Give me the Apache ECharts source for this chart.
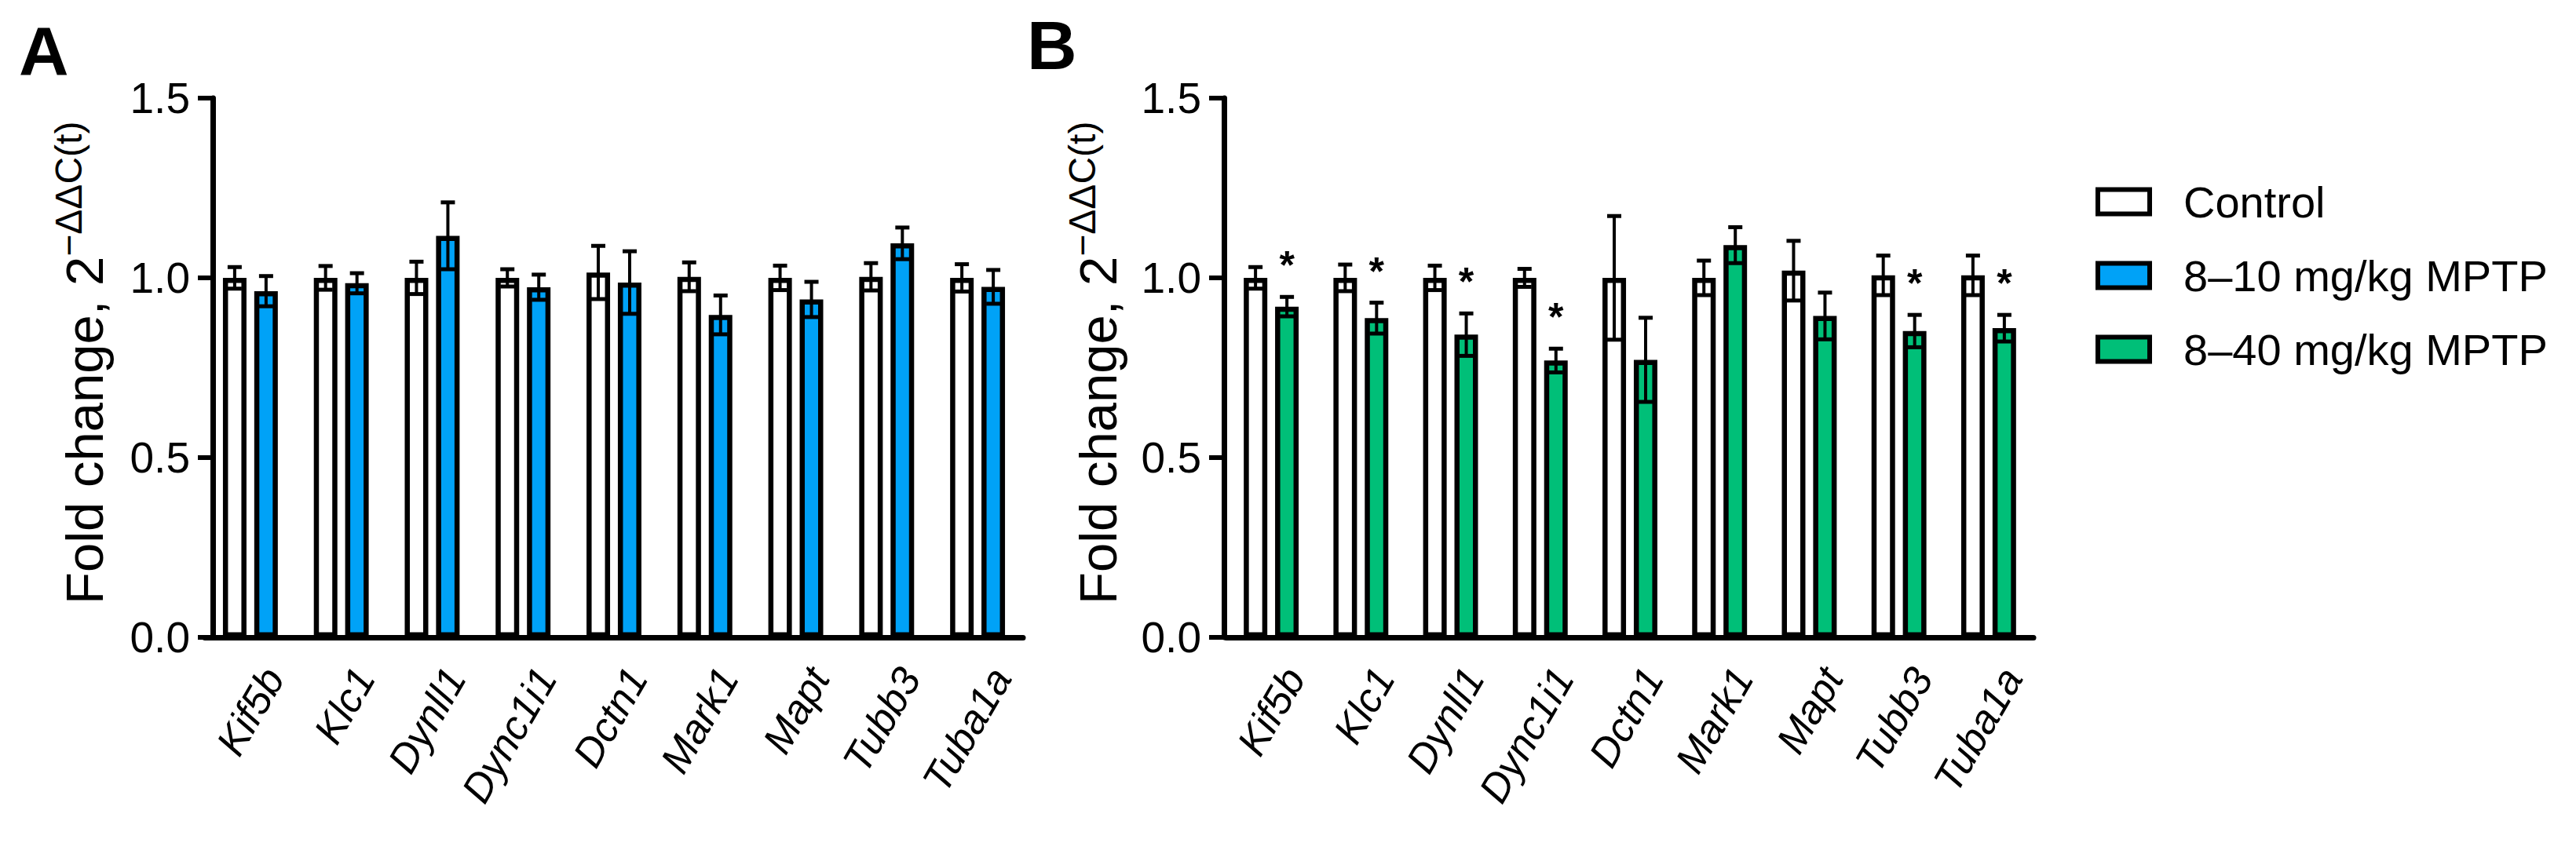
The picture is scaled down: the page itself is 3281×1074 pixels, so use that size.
<!DOCTYPE html>
<html>
<head>
<meta charset="utf-8">
<script src="https://cdn.jsdelivr.net/npm/echarts@6/dist/echarts.min.js"></script>
<style>
  html, body { margin: 0; padding: 0; background: #fff; }
  #chart { width: 3281px; height: 1074px; }
</style>
</head>
<body>
<div id="chart"></div>
<script>
// genes on the x axis (same for both panels)
const genes = ['Kif5b', 'Klc1', 'Dynll1', 'Dync1i1', 'Dctn1', 'Mark1', 'Mapt', 'Tubb3', 'Tuba1a'];

// panel A: control vs 8–10 mg/kg
const ctrlA = [1.00, 1.00, 1.00, 1.00, 1.015, 1.003, 1.00, 1.003, 1.00];
const ctrlAErr = [0.030, 0.033, 0.045, 0.024, 0.074, 0.040, 0.034, 0.038, 0.038];
const lowA = [0.963, 0.985, 1.117, 0.974, 0.987, 0.897, 0.940, 1.096, 0.975];
const lowAErr = [0.042, 0.028, 0.093, 0.035, 0.087, 0.054, 0.049, 0.044, 0.047];

// panel B: control vs 8–40 mg/kg
const ctrlB = [1.00, 1.00, 1.00, 1.00, 1.00, 1.00, 1.02, 1.007, 1.007];
const ctrlBErr = [0.030, 0.037, 0.034, 0.025, 0.172, 0.048, 0.083, 0.055, 0.055];
const highB = [0.920, 0.888, 0.842, 0.770, 0.772, 1.091, 0.894, 0.852, 0.860];
const highBErr = [0.027, 0.043, 0.059, 0.033, 0.117, 0.050, 0.065, 0.045, 0.037];
const sigB = [1, 1, 1, 1, 0, 0, 0, 1, 1];   // * p<0.05

const yTicks = [0, 0.5, 1.0, 1.5];

const FONT = "'Liberation Sans', Arial, Helvetica, sans-serif";
const BLUE = '#00a2f7';
const GREEN = '#00bf78';
const BAR_W = 30, BORDER = 6.5, OFF = 20;

// text width helper for placing the superscript after the title
const mctx = document.createElement('canvas').getContext('2d');
function textW(str, font) {
  mctx.font = font;
  return mctx.measureText(str).width;
}

function errRender(offset) {
  return function (params, api) {
    const i = api.value(0), m = api.value(1), e = api.value(2), s = api.value(3);
    const top = api.coord([i, m + e]);
    const bot = api.coord([i, m - e]);
    const x = top[0] + offset;
    const kids = [
      {type: 'line', shape: {x1: x, y1: top[1], x2: x, y2: bot[1]}, style: {stroke: '#000', lineWidth: 4}},
      {type: 'line', shape: {x1: x - 9, y1: top[1], x2: x + 9, y2: top[1]}, style: {stroke: '#000', lineWidth: 5}},
      {type: 'line', shape: {x1: x - 9, y1: bot[1], x2: x + 9, y2: bot[1]}, style: {stroke: '#000', lineWidth: 5}}
    ];
    if (s) {
      kids.push({type: 'text', x: x, y: top[1] - 40, style: {
        text: '*', fill: '#000', font: 'bold 50px ' + FONT, textAlign: 'center', textVerticalAlign: 'middle'
      }});
    }
    return {type: 'group', children: kids};
  };
}

function errData(mean, err, sig) {
  return mean.map((m, i) => [i, m, err[i], sig ? sig[i] : 0]);
}

function xAxisCfg(gridIndex) {
  return {
    type: 'category', gridIndex: gridIndex, data: genes,
    axisLine: {lineStyle: {color: '#000', width: 7}},
    axisTick: {alignWithLabel: true, length: 19, lineStyle: {color: '#000', width: 6}},
    axisLabel: {rotate: 60, fontSize: 52, fontStyle: 'italic', fontFamily: FONT, color: '#000',
      margin: 26, interval: 0, verticalAlign: 'top', padding: [8, 0, 0, 0]}
  };
}

function yAxisCfg(gridIndex, offset) {
  return {
    type: 'value', gridIndex: gridIndex, min: 0, max: 1.5, interval: 0.5, offset: offset,
    axisLine: {show: true, lineStyle: {color: '#000', width: 7}},
    axisTick: {show: true, length: 19, lineStyle: {color: '#000', width: 6}},
    splitLine: {show: false},
    axisLabel: {fontSize: 55, fontFamily: FONT, color: '#000', margin: 29,
      formatter: v => yTicks.indexOf(v) >= 0 ? v.toFixed(1) : ''}
  };
}

function barSeries(name, data, color, idx) {
  return {
    name: name, type: 'bar', xAxisIndex: idx, yAxisIndex: idx, data: data,
    barWidth: BAR_W, barGap: '33%',
    itemStyle: {color: color, borderColor: '#000', borderWidth: BORDER}
  };
}

function errSeries(mean, err, sig, offset, idx) {
  return {
    type: 'custom', xAxisIndex: idx, yAxisIndex: idx, z: 5,
    renderItem: errRender(offset), data: errData(mean, err, sig)
  };
}

// rotated y title: "Fold change, 2" with superscript "−ΔΔC(t)"
const MAIN_FONT = '67px ' + FONT, SUP_FONT = '48px ' + FONT;
const MAIN_TXT = 'Fold change, 2', SUP_TXT = '\u2212\u0394\u0394C(t)';
function yTitle(baseX, bottomY) {
  const w = textW(MAIN_TXT, MAIN_FONT);
  return [
    {type: 'text', x: baseX - 23, y: bottomY, rotation: Math.PI / 2, style: {
      text: MAIN_TXT, font: MAIN_FONT, fill: '#000', textAlign: 'left', textVerticalAlign: 'middle'}},
    {type: 'text', x: baseX - 26 - 17, y: bottomY - w, rotation: Math.PI / 2, style: {
      text: SUP_TXT, font: SUP_FONT, fill: '#000', textAlign: 'left', textVerticalAlign: 'middle'}}
  ];
}

const chart = echarts.init(document.getElementById('chart'), null, {renderer: 'svg'});

const option = {
  animation: false,
  backgroundColor: '#fff',
  grid: [
    {left: 261, width: 1042, top: 125, bottom: 262},
    {left: 1562, width: 1028, top: 125, bottom: 262}
  ],
  xAxis: [xAxisCfg(0), xAxisCfg(1)],
  yAxis: [yAxisCfg(0, -10), yAxisCfg(1, 3)],
  legend: {
    orient: 'vertical', left: 2669, top: 229, padding: 0,
    itemWidth: 66, itemHeight: 31, itemGap: 38,
    textStyle: {fontSize: 56, fontFamily: FONT, color: '#000', padding: [0, 0, 0, 38]},
    data: [
      {name: 'Control', icon: 'rect', itemStyle: {color: '#fff', borderColor: '#000', borderWidth: 6}},
      {name: '8–10 mg/kg MPTP', icon: 'rect', itemStyle: {color: BLUE, borderColor: '#000', borderWidth: 6}},
      {name: '8–40 mg/kg MPTP', icon: 'rect', itemStyle: {color: GREEN, borderColor: '#000', borderWidth: 6}}
    ]
  },
  graphic: [
    {type: 'text', left: 24, top: 20, style: {text: 'A', font: 'bold 88px ' + FONT, fill: '#000'}},
    {type: 'text', left: 1308, top: 13, style: {text: 'B', font: 'bold 88px ' + FONT, fill: '#000'}}
  ].concat(yTitle(130, 770), yTitle(1421, 770)),
  series: [
    barSeries('Control', ctrlA, '#fff', 0),
    barSeries('8–10 mg/kg MPTP', lowA, BLUE, 0),
    errSeries(ctrlA, ctrlAErr, null, -OFF, 0),
    errSeries(lowA, lowAErr, null, OFF, 0),
    barSeries('Control', ctrlB, '#fff', 1),
    barSeries('8–40 mg/kg MPTP', highB, GREEN, 1),
    errSeries(ctrlB, ctrlBErr, null, -OFF, 1),
    errSeries(highB, highBErr, sigB, OFF, 1)
  ]
};

chart.setOption(option);
</script>
</body>
</html>
